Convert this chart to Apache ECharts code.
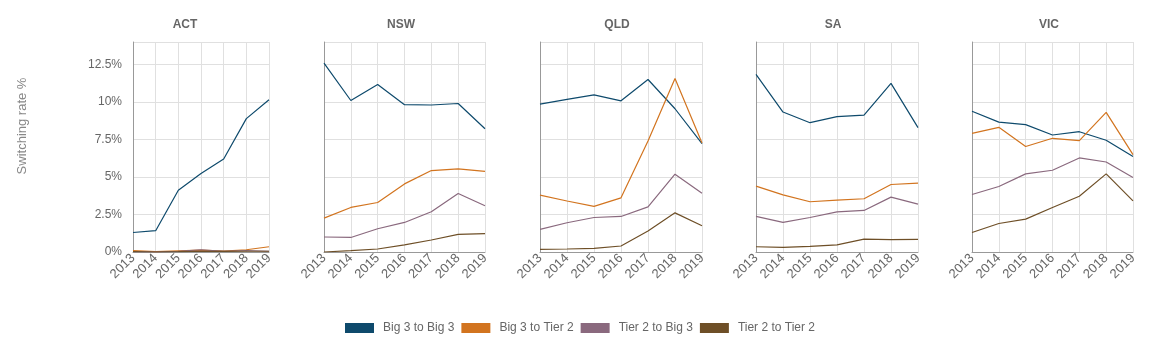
<!DOCTYPE html>
<html>
<head>
<meta charset="utf-8">
<script src="https://cdn.jsdelivr.net/npm/echarts@6/dist/echarts.min.js"></script>
<style>
  html, body { margin: 0; padding: 0; background: #fff; }
  #chart { width: 1175px; height: 352px; }
</style>
</head>
<body>
<div id="chart"></div>
<script>
// 数据
const years = ["2013", "2014", "2015", "2016", "2017", "2018", "2019"];
const states = ["ACT", "NSW", "QLD", "SA", "VIC"];
const seriesNames = ["Big 3 to Big 3", "Big 3 to Tier 2", "Tier 2 to Big 3", "Tier 2 to Tier 2"];
const colors = ["#0e4a6c", "#d2741f", "#8a697e", "#6e4f27"];

const actBig3Big3 = [1.3, 1.42, 4.12, 5.23, 6.2, 8.89, 10.15];
const actBig3Tier2 = [0.1, 0.02, 0.08, 0.12, 0.06, 0.15, 0.35];
const actTier2Big3 = [0.03, 0.0, 0.05, 0.15, 0.05, 0.1, 0.05];
const actTier2Tier2 = [0.02, 0.0, 0.02, 0.05, 0.04, 0.05, 0.05];

const nswBig3Big3 = [12.59, 10.1, 11.17, 9.82, 9.8, 9.9, 8.22];
const nswBig3Tier2 = [2.26, 2.97, 3.3, 4.54, 5.43, 5.54, 5.37];
const nswTier2Big3 = [1.0, 0.97, 1.55, 1.97, 2.68, 3.9, 3.08];
const nswTier2Tier2 = [0.0, 0.09, 0.2, 0.47, 0.8, 1.17, 1.22];

const qldBig3Big3 = [9.86, 10.17, 10.48, 10.08, 11.5, 9.55, 7.22];
const qldBig3Tier2 = [3.79, 3.4, 3.04, 3.61, 7.4, 11.57, 7.27];
const qldTier2Big3 = [1.51, 1.95, 2.3, 2.37, 3.01, 5.19, 3.92];
const qldTier2Tier2 = [0.18, 0.2, 0.24, 0.4, 1.4, 2.61, 1.75];

const saBig3Big3 = [11.84, 9.33, 8.62, 9.02, 9.13, 11.24, 8.29];
const saBig3Tier2 = [4.39, 3.81, 3.35, 3.46, 3.55, 4.5, 4.59];
const saTier2Big3 = [2.37, 1.97, 2.3, 2.68, 2.77, 3.66, 3.19];
const saTier2Tier2 = [0.35, 0.31, 0.38, 0.47, 0.86, 0.82, 0.84];

const vicBig3Big3 = [9.38, 8.66, 8.49, 7.8, 8.02, 7.45, 6.36];
const vicBig3Tier2 = [7.91, 8.31, 7.03, 7.58, 7.42, 9.31, 6.49];
const vicTier2Big3 = [3.83, 4.37, 5.21, 5.45, 6.27, 6.0, 4.97];
const vicTier2Tier2 = [1.3, 1.9, 2.19, 2.97, 3.72, 5.21, 3.41];

const stateData = [
  [actBig3Big3, actBig3Tier2, actTier2Big3, actTier2Tier2],
  [nswBig3Big3, nswBig3Tier2, nswTier2Big3, nswTier2Tier2],
  [qldBig3Big3, qldBig3Tier2, qldTier2Big3, qldTier2Tier2],
  [saBig3Big3, saBig3Tier2, saTier2Big3, saTier2Tier2],
  [vicBig3Big3, vicBig3Tier2, vicTier2Big3, vicTier2Tier2],
];

// 布局
const gridLefts = [133, 324, 540, 756, 972];
const gridWidths = [136, 161, 162, 162, 161];
const titleCenters = [180, 396, 612, 828, 1044];
const font = "'Liberation Sans', Arial, sans-serif";

const chart = echarts.init(document.getElementById("chart"));

const grid = [], xAxis = [], yAxis = [], title = [], series = [];
states.forEach((st, i) => {
  grid.push({ left: gridLefts[i], width: gridWidths[i], top: 42, height: 210 });
  title.push({
    text: st,
    left: titleCenters[i],
    top: 14,
    textAlign: "center",
    textStyle: { fontFamily: font, fontSize: 12, fontWeight: "bold", color: "#666" },
  });
  xAxis.push({
    gridIndex: i,
    type: "category",
    data: years,
    boundaryGap: false,
    axisLine: { lineStyle: { color: "#999" } },
    axisTick: { show: false },
    axisLabel: { rotate: 45, fontFamily: font, fontSize: 13, color: "#666", margin: 4, interval: 0 },
    splitLine: { show: true, lineStyle: { color: "#e0e0e0" } },
  });
  yAxis.push({
    gridIndex: i,
    type: "value",
    min: 0,
    max: 14,
    interval: 2.5,
    axisLine: { show: true, lineStyle: { color: "#999" } },
    axisTick: { show: false },
    axisLabel: {
      show: i === 0,
      fontFamily: font,
      fontSize: 12,
      color: "#666",
      margin: 11,
      formatter: (v) => (v > 13 ? "" : v + "%"),
    },
    splitLine: { lineStyle: { color: "#e0e0e0" } },
  });
  stateData[i].forEach((vals, k) => {
    series.push({
      name: seriesNames[k],
      type: "line",
      xAxisIndex: i,
      yAxisIndex: i,
      data: vals,
      showSymbol: false,
      lineStyle: { width: 1.2, color: colors[k] },
      itemStyle: { color: colors[k] },
    });
  });
});

chart.setOption({
  backgroundColor: "#fff",
  animation: false,
  title,
  grid,
  xAxis,
  yAxis,
  graphic: [
    {
      type: "text",
      x: 22,
      y: 126,
      rotation: Math.PI / 2,
      style: {
        text: "Switching rate %",
        fontFamily: font,
        fontSize: 13,
        fill: "#888",
        textAlign: "center",
        textVerticalAlign: "middle",
      },
    },
  ],
  legend: {
    data: seriesNames.map((n, k) => ({ name: n, icon: "rect", itemStyle: { color: colors[k] } })),
    left: 340,
    top: 317,
    itemWidth: 29,
    itemHeight: 10,
    itemGap: 7,
    textStyle: { fontFamily: font, fontSize: 12, color: "#666", padding: [0, 0, 0, 4] },
  },
  series,
});
</script>
</body>
</html>
